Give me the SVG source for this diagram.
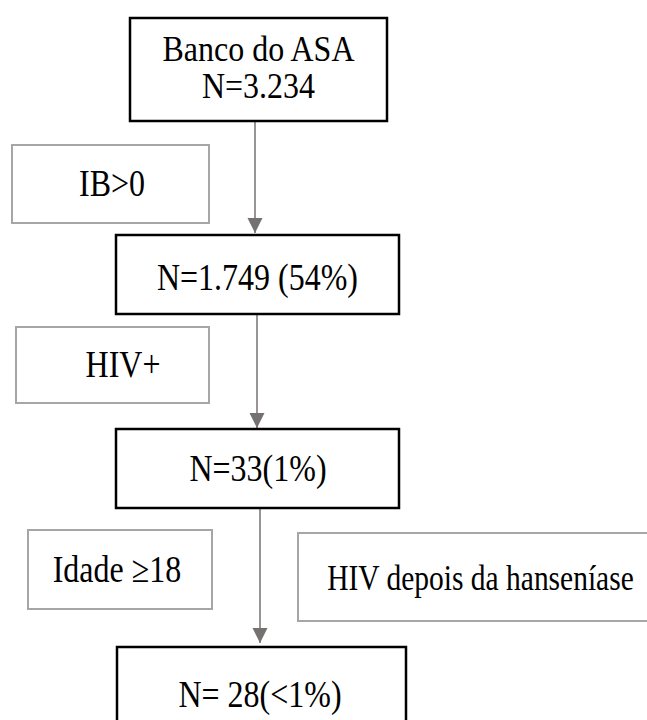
<svg xmlns="http://www.w3.org/2000/svg" width="647" height="720" viewBox="0 0 647 720">
<style>
.main{fill:#fff;stroke:#000;stroke-width:2.5}
.crit{fill:#fff;stroke:#a6a6a6;stroke-width:2}
.t{font-family:"Liberation Serif","Times New Roman",serif;font-size:32px;fill:#000;text-anchor:middle}
.conn{stroke:#767171;stroke-width:1.5;fill:none}
</style>
<defs>
<marker id="ah" markerUnits="userSpaceOnUse" markerWidth="16" markerHeight="16" viewBox="0 0 16 16" refX="15" refY="8" orient="auto">
<path d="M0,0.5 L15,8 L0,15.5 Z" fill="#767171"/>
</marker>
</defs>
<rect width="647" height="720" fill="#fff"/>
<g id="connectors">
<line class="conn" x1="255" y1="122" x2="255" y2="233" marker-end="url(#ah)"/>
<line class="conn" x1="257" y1="315" x2="257" y2="428" marker-end="url(#ah)"/>
<line class="conn" x1="260" y1="509" x2="260" y2="643" marker-end="url(#ah)"/>
</g>
<g id="n1">
<rect class="main" x="130" y="18" width="257" height="103"/>
<text class="t" transform="translate(258.5 61) scale(1 1.12)"><tspan x="0" y="0">Banco do ASA</tspan><tspan x="0" y="33">N=3.234</tspan></text>
</g>
<g id="c1">
<rect class="crit" x="12" y="145" width="197" height="78"/>
<text class="t" transform="translate(112 196) scale(1 1.18)">IB&gt;0</text>
</g>
<g id="n2">
<rect class="main" x="116" y="235" width="283" height="79"/>
<text class="t" transform="translate(257.5 290) scale(1 1.18)">N=1.749 (54%)</text>
</g>
<g id="c2">
<rect class="crit" x="16" y="327" width="193" height="76"/>
<text class="t" transform="translate(123 377) scale(1 1.18)">HIV+</text>
</g>
<g id="n3">
<rect class="main" x="116" y="429" width="283" height="79"/>
<text class="t" transform="translate(258 481) scale(1 1.18)">N=33(1%)</text>
</g>
<g id="c3">
<rect class="crit" x="28" y="530" width="184" height="79"/>
<text class="t" transform="translate(117 582) scale(1 1.18)">Idade ≥18</text>
</g>
<g id="c4">
<rect class="crit" x="298" y="533" width="370" height="88"/>
<text class="t" transform="translate(480.5 590) scale(1 1.18)" style="font-size:29.5px">HIV depois da hanseníase</text>
</g>
<g id="n4">
<rect class="main" x="117" y="647" width="289" height="100"/>
<text class="t" transform="translate(260 707) scale(1 1.18)">N= 28(&lt;1%)</text>
</g>
</svg>
